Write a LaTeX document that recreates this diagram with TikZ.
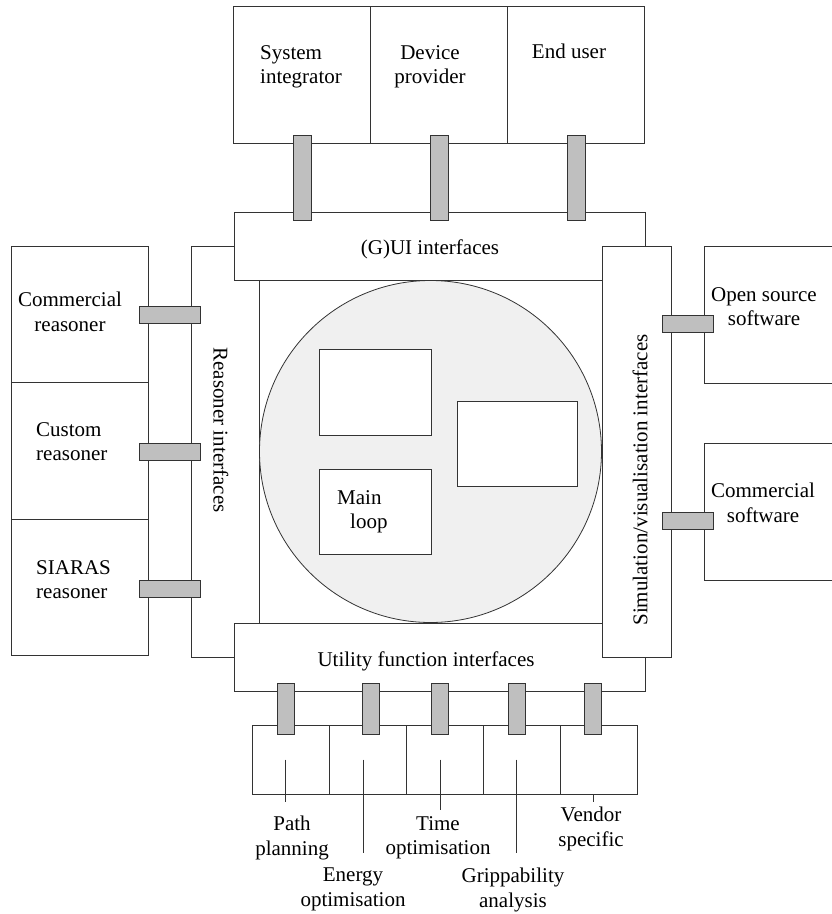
\documentclass[tikz,border=0pt]{standalone}
\usepackage{fontspec}
\setmainfont{Liberation Serif}
\usepackage{tikz}
\usetikzlibrary{positioning,calc}
\definecolor{dline}{HTML}{333333}
\definecolor{plugfill}{HTML}{BFBFBF}
\definecolor{corefill}{HTML}{F0F0F0}

\begin{document}
\begin{tikzpicture}[x=1pt,y=-1pt,
  every node/.style={font=\fontsize{21}{24.5}\selectfont},
  box/.style={draw=dline,line width=0.8pt,fill=white,inner sep=0pt,outer sep=0pt,anchor=north west},
  plug/.style={draw=dline,line width=0.8pt,fill=plugfill,inner sep=0pt,outer sep=0pt},
  txt/.style={inner sep=0pt,align=center}]
  \useasboundingbox (0,0) rectangle (832,914);

  % interface frame round the core
  \node[box,minimum width=68,minimum height=411] (reas) at (191,246) {};
  \node[box,minimum width=343,minimum height=343] (frame) at (259,280) {};
  \node[circle,draw=dline,line width=0.8pt,fill=corefill,minimum size=342,inner sep=0pt] (core) at (430.5,451.5) {};
  \node[box,minimum width=112,minimum height=86] (mA) at (319,349) {};
  \node[box,minimum width=120,minimum height=85] (mB) at (457,401) {};
  \node[box,minimum width=112,minimum height=85] (main) at (319,469) {};
  \node[txt,anchor=north west,align=left] (maintxt) at (337,490) {Main\\\hspace*{13pt}loop};
  \node[box,minimum width=411,minimum height=68] (gui) at (234,212) {};
  \node[box,minimum width=411,minimum height=68] (util) at (234,623) {};
  \node[box,minimum width=69,minimum height=411] (sim) at (602,246) {};

  \node[txt,anchor=base] (guitxt) at (430,254) {(G)UI interfaces};
  \node[txt,anchor=base] (utiltxt) at (426,666) {Utility function interfaces};
  \node[txt,rotate=-90] (reastxt) at (221,430) {Reasoner interfaces};
  \node[txt,rotate=90] (simtxt) at (640,480) {Simulation/visualisation interfaces};

  % users on top
  \foreach \n/\x in {si/233,dp/370,eu/507}
    \node[box,minimum width=137,minimum height=137] (\n) at (\x,6) {};
  \node[txt,anchor=north west,align=left] (sitxt) at (260,45) {System\\integrator};
  \node[txt,anchor=north] (dptxt) at (430,45) {Device\\provider};
  \node[txt,anchor=base] (eutxt) at (569,58) {End user};

  % reasoners on the left
  \foreach \n/\y in {cr/246,cu/382.5,sr/519}
    \node[box,minimum width=137,minimum height=136.5] (\n) at (11,\y) {};
  \node[txt,anchor=north] (crtxt) at (70,292) {Commercial\\reasoner};
  \node[txt,anchor=north west,align=left] (cutxt) at (36,422) {Custom\\reasoner};
  \node[txt,anchor=north west,align=left] (srtxt) at (36,560) {SIARAS\\reasoner};

  % software on the right
  \node[box,minimum width=140,minimum height=137] (os) at (704,246) {};
  \node[box,minimum width=140,minimum height=137] (cs) at (704,443) {};
  \node[txt,anchor=north] (ostxt) at (764,287) {Open source\\software};
  \node[txt,anchor=north] (cstxt) at (763,483) {Commercial\\software};

  % utility functions below
  \foreach \i in {1,...,5}
    \node[box,minimum width=77,minimum height=69] (bb\i) at (252+77*\i-77,725) {};
  \node[txt,anchor=north] (lb1) at (292,816) {Path\\planning};
  \node[txt,anchor=north] (lb2) at (353,868) {Energy\\optimisation};
  \node[txt,anchor=north] (lb3) at (438,816) {Time\\optimisation};
  \node[txt,anchor=north] (lb4) at (513,868) {Grippability\\analysis};
  \node[txt,anchor=north] (lb5) at (591,807) {Vendor\\specific};

  % plugs
  \foreach \x [count=\i] in {302,439,576}
    \node[plug,minimum width=18,minimum height=85] (pt\i) at (\x,177.5) {};
  \foreach \y [count=\i] in {314.5,451.5,588.5}
    \node[plug,minimum width=61,minimum height=17] (pl\i) at (169.5,\y) {};
  \foreach \y [count=\i] in {323.5,520.5}
    \node[plug,minimum width=51,minimum height=17] (pr\i) at (687.5,\y) {};
  \foreach \x [count=\i] in {285.5,370.5,440,516.5,593}
    \node[plug,minimum width=17,minimum height=51] (pb\i) at (\x,708.5) {};

  % pointers to the function names
  \draw[dline,line width=0.8pt,shorten >=14pt] (pb1 |- bb1.center) -- (pb1 |- lb1.north);
  \draw[dline,line width=0.8pt,shorten >=15pt] ([xshift=-7.5pt]pb2 |- bb2.center) -- ([xshift=-7.5pt]pb2 |- lb2.north);
  \draw[dline,line width=0.8pt,shorten >=6pt] (pb3 |- bb3.center) -- (pb3 |- lb3.north);
  \draw[dline,line width=0.8pt,shorten >=15pt] (pb4 |- bb4.center) -- (pb4 |- lb4.north);
  \draw[dline,line width=0.8pt,shorten >=5pt] (pb5 |- bb5.south) -- (pb5 |- lb5.north);
\end{tikzpicture}
\end{document}
